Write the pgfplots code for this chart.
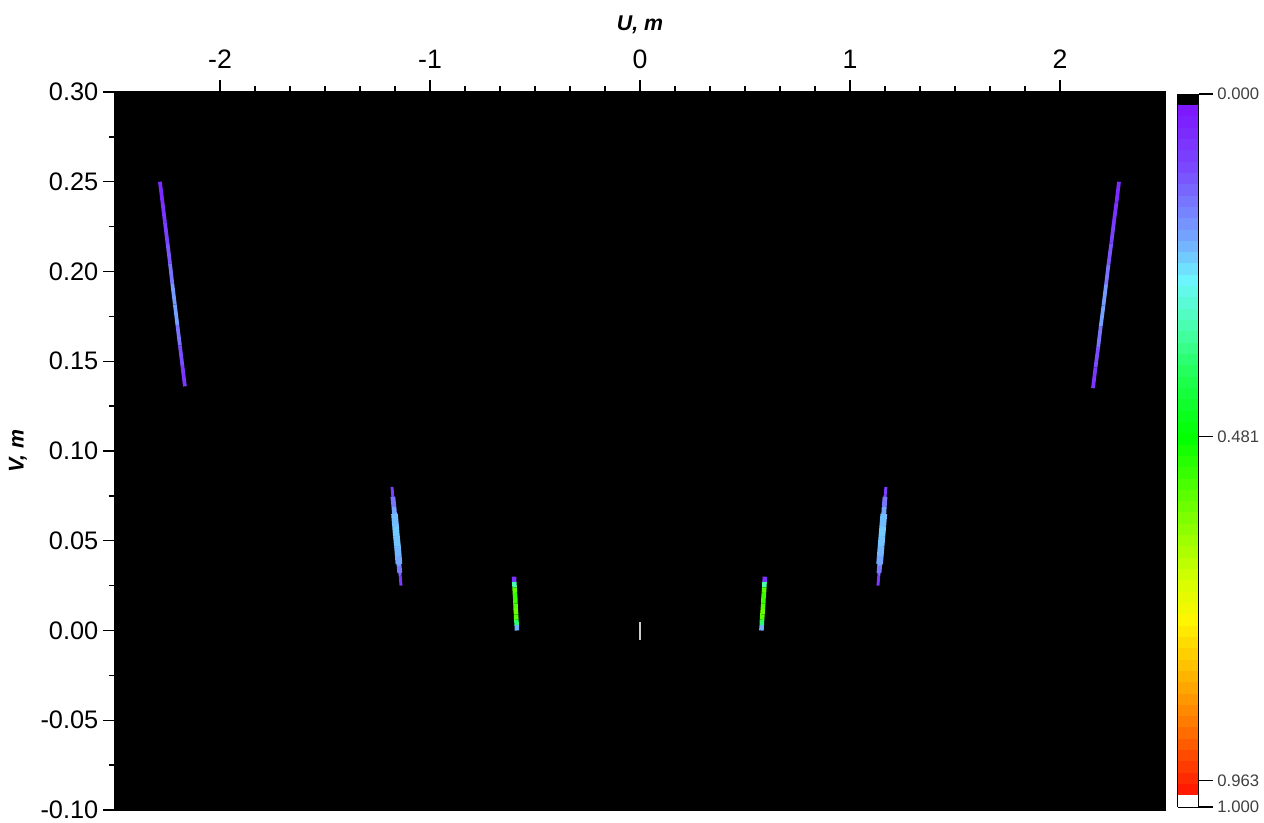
\documentclass[border=0pt]{standalone}
\usepackage{pgfplots}
\pgfplotsset{compat=1.18}
\usepackage{fontspec}
\setmainfont{Liberation Sans}
\begin{document}
\begin{tikzpicture}
\begin{axis}[
  at={(86.25pt,9.75pt)}, anchor=south west,
  scale only axis, width=787.5pt, height=538.5pt,
  xmin=-2.5, xmax=2.5, ymin=-0.1, ymax=0.3,
  axis background/.style={fill=black},
  axis line style={black, line width=1pt},
  xtick={-2,-1,0,1,2}, xticklabels={-2,-1,0,1,2},
  minor x tick num=5,
  ytick={-0.1,-0.05,0,0.05,0.1,0.15,0.2,0.25,0.3},
  yticklabels={-0.10,-0.05,0.00,0.05,0.10,0.15,0.20,0.25,0.30},
  minor y tick num=1,
  xtick pos=right, xticklabel pos=right, ytick pos=left,
  tick align=outside, major tick length=9pt, minor tick length=4.5pt,
  every tick/.style={black, line width=1.1pt},
  xticklabel style={font=\fontsize{20}{22}\selectfont, yshift=5pt},
  yticklabel style={font=\fontsize{19}{21}\selectfont},
  xlabel={\bfseries\itshape U, m},
  ylabel={\bfseries\itshape V, m},
  xlabel style={font=\fontsize{16}{18}\selectfont, at={(axis description cs:0.5,1.094)}, anchor=center},
  ylabel style={font=\fontsize{16}{18}\selectfont, at={(axis description cs:-0.0924,0.5)}, anchor=center},
  colormap={streak}{rgb255(0)=(0,0,0) rgb255(14)=(0,0,0) rgb255(18)=(125,20,255)
    rgb255(100)=(122,70,255) rgb255(160)=(120,125,255) rgb255(210)=(115,175,255)
    rgb255(260)=(110,245,255) rgb255(330)=(70,255,170) rgb255(400)=(30,255,80)
    rgb255(481)=(0,255,0) rgb255(580)=(110,255,0) rgb255(680)=(210,255,0)
    rgb255(740)=(255,245,0) rgb255(800)=(255,195,0) rgb255(880)=(255,125,0)
    rgb255(982)=(255,20,0) rgb255(986)=(255,255,255) rgb255(1000)=(255,255,255)},
  point meta min=0, point meta max=1,
  colorbar sampled,
  colorbar style={
    samples=64,
    at={(parent axis.north east)}, anchor=north west, xshift=1pt, yshift=-1.5pt,
    width=15.75pt, height=534.75pt,
    y dir=reverse,
    ytick={0,0.481,0.963,1}, yticklabels={0.000,0.481,0.963,1.000},
    ytick pos=right, yticklabel pos=right,
    tick align=outside, major tick length=10.5pt,
    every tick/.style={black, line width=0.8pt},
    axis line style={black, line width=0.6pt},
    yticklabel style={font=\fontsize{12.5}{14}\selectfont, text=black!75},
  },
]
% outer left streak
\addplot[mesh, point meta=explicit, line width=2.8pt] table[meta=c] {
x y c
-2.286 0.2500 0.05
-2.274 0.2386 0.06
-2.262 0.2272 0.08
-2.250 0.2158 0.10
-2.238 0.2044 0.13
-2.227 0.1930 0.17
-2.215 0.1816 0.21
-2.203 0.1702 0.18
-2.191 0.1588 0.12
-2.179 0.1474 0.09
-2.167 0.1360 0.06
};
% outer right streak
\addplot[mesh, point meta=explicit, line width=2.8pt] table[meta=c] {
x y c
2.281 0.2500 0.05
2.269 0.2385 0.06
2.256 0.2270 0.08
2.244 0.2155 0.10
2.231 0.2040 0.13
2.219 0.1925 0.17
2.207 0.1810 0.21
2.194 0.1695 0.18
2.182 0.1580 0.12
2.169 0.1465 0.09
2.157 0.1350 0.06
};
% middle left streak
\addplot[mesh, point meta=explicit, line width=2.2pt] table[meta=c] {
x y c
-1.181 0.0800 0.05
-1.177 0.0745 0.12
-1.172 0.0690 0.18
-1.168 0.0635 0.22
-1.164 0.0580 0.23
-1.160 0.0525 0.23
-1.155 0.0470 0.22
-1.151 0.0415 0.21
-1.147 0.0360 0.17
-1.142 0.0305 0.10
-1.138 0.0250 0.06
};
\addplot[mesh, point meta=explicit, line width=3.6pt] table[meta=c] {
x y c
-1.177 0.0745 0.12
-1.172 0.0690 0.18
-1.168 0.0635 0.22
-1.164 0.0580 0.23
-1.160 0.0525 0.23
-1.155 0.0470 0.22
-1.151 0.0415 0.21
-1.147 0.0360 0.17
-1.144 0.0320 0.14
};
\addplot[mesh, point meta=explicit, line width=5pt] table[meta=c] {
x y c
-1.169 0.0650 0.21
-1.164 0.0580 0.23
-1.160 0.0525 0.23
-1.155 0.0470 0.22
-1.151 0.0415 0.21
-1.148 0.0370 0.19
};
% middle right streak
\addplot[mesh, point meta=explicit, line width=2.2pt] table[meta=c] {
x y c
1.171 0.0800 0.05
1.167 0.0745 0.12
1.163 0.0690 0.18
1.160 0.0635 0.22
1.156 0.0580 0.23
1.152 0.0525 0.23
1.148 0.0470 0.22
1.144 0.0415 0.21
1.141 0.0360 0.17
1.137 0.0305 0.10
1.133 0.0250 0.06
};
\addplot[mesh, point meta=explicit, line width=3.6pt] table[meta=c] {
x y c
1.167 0.0745 0.12
1.163 0.0690 0.18
1.160 0.0635 0.22
1.156 0.0580 0.23
1.152 0.0525 0.23
1.148 0.0470 0.22
1.144 0.0415 0.21
1.141 0.0360 0.17
1.138 0.0320 0.14
};
\addplot[mesh, point meta=explicit, line width=5pt] table[meta=c] {
x y c
1.161 0.0650 0.21
1.156 0.0580 0.23
1.152 0.0525 0.23
1.148 0.0470 0.22
1.144 0.0415 0.21
1.141 0.0370 0.19
};
% inner left streak
\addplot[mesh, point meta=explicit, line width=3.4pt] table[meta=c] {
x y c
-0.600 0.030 0.06
-0.599 0.027 0.08
-0.597 0.024 0.58
-0.596 0.021 0.54
-0.594 0.018 0.52
-0.593 0.015 0.54
-0.592 0.012 0.57
-0.590 0.009 0.58
-0.589 0.006 0.54
-0.587 0.003 0.22
-0.586 0.000 0.20
};
% inner right streak
\addplot[mesh, point meta=explicit, line width=3.4pt] table[meta=c] {
x y c
0.595 0.030 0.06
0.593 0.027 0.08
0.592 0.024 0.58
0.590 0.021 0.54
0.588 0.018 0.52
0.587 0.015 0.54
0.585 0.012 0.57
0.583 0.009 0.58
0.581 0.006 0.54
0.580 0.003 0.22
0.578 0.000 0.20
};
% centre
\addplot[draw=black!20, line width=1.2pt] coordinates {(0,0.0045) (0,-0.0055)};
\end{axis}
\pgfresetboundingbox
\path (0pt,0pt) rectangle (948pt,617.25pt);
\end{tikzpicture}
\end{document}
